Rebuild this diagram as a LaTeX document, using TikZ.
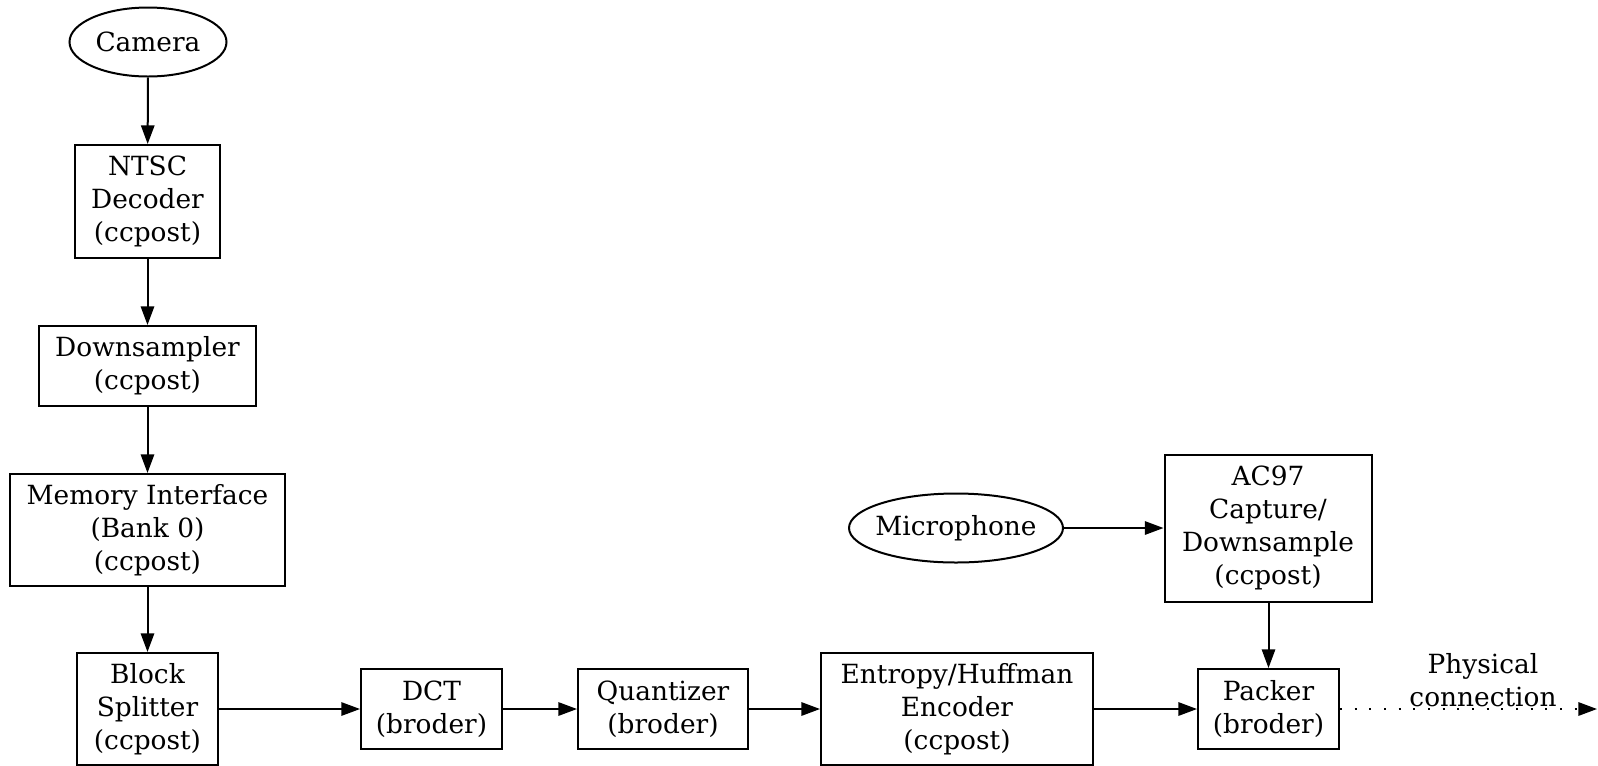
\documentclass[tikz,border=0pt]{standalone}
\usepackage{fontspec}
\setmainfont{DejaVu Serif}
\usetikzlibrary{shapes.geometric,arrows.meta}
\begin{document}
\begin{tikzpicture}[x=0.75pt,y=-0.75pt,
  every node/.style={font=\fontsize{19.8pt}{24.6pt}\selectfont, align=center, inner sep=0pt},
  blk/.style={draw, line width=1.5pt, rectangle},
  src/.style={draw, line width=1.5pt, ellipse},
  arr/.style={line width=1.5pt, -{Triangle[length=14pt,width=10pt]}},
  dotarr/.style={line width=1.6pt, dash pattern=on 1.6pt off 9.4pt, -{Triangle[length=14pt,width=10pt]}}]
\useasboundingbox (0,0) rectangle (1598,765);
\node[src, minimum width=117.75pt, minimum height=51.75pt] (cam) at (148,42) {\makebox[0pt]{Camera}};
\node[blk, minimum width=108.75pt, minimum height=84.75pt] (ntsc) at (147.5,201.5) {NTSC\\Decoder\\(ccpost)};
\node[blk, minimum width=162.75pt, minimum height=60pt] (down) at (147.5,366) {Downsampler\\(ccpost)};
\node[blk, minimum width=206.25pt, minimum height=84pt] (mem) at (147.5,530) {Memory Interface\\(Bank 0)\\(ccpost)};
\node[blk, minimum width=105.75pt, minimum height=84pt] (block) at (147.5,709) {Block\\Splitter\\(ccpost)};
\node[blk, minimum width=105.75pt, minimum height=60pt] (dct) at (431.5,709) {DCT\\(broder)};
\node[blk, minimum width=127.5pt, minimum height=60pt] (quant) at (663,709) {Quantizer\\(broder)};
\node[blk, minimum width=204pt, minimum height=84pt] (ent) at (957,709) {Entropy/Huffman\\Encoder\\(ccpost)};
\node[src, minimum width=160.5pt, minimum height=51.75pt] (mic) at (956,528) {\makebox[0pt]{Microphone}};
\node[blk, minimum width=155.25pt, minimum height=110.25pt] (ac97) at (1268,528) {AC97\\Capture/\\Downsample\\(ccpost)};
\node[blk, minimum width=105.75pt, minimum height=60pt] (pack) at (1268.5,709) {Packer\\(broder)};
\coordinate (out) at (1597,709);
\node (phys) at (1483,680) {Physical\\connection};
\draw[arr] (cam) -- (ntsc);
\draw[arr] (ntsc) -- (down);
\draw[arr] (down) -- (mem);
\draw[arr] (mem) -- (block);
\draw[arr] (block) -- (dct);
\draw[arr] (dct) -- (quant);
\draw[arr] (quant) -- (ent);
\draw[arr] (ent) -- (pack);
\draw[arr] (mic) -- (ac97);
\draw[arr] (ac97.south -| pack.north) -- (pack.north);
\draw[dotarr] (pack) -- (out);
\end{tikzpicture}
\end{document}
